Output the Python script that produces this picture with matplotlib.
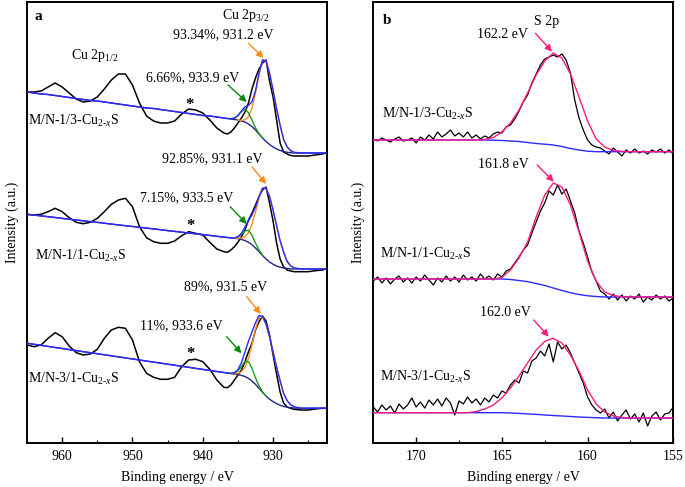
"""XPS Cu 2p (a) and S 2p (b) spectra of the M/N-Cu2-xS samples."""

import matplotlib

matplotlib.use("Agg")

import matplotlib.pyplot as plt
import numpy as np

plt.rcParams["font.family"] = ["Liberation Serif", "DejaVu Serif"]
plt.rcParams["mathtext.fontset"] = "custom"
plt.rcParams["mathtext.rm"] = "Liberation Serif"
plt.rcParams["mathtext.it"] = "Liberation Serif:italic"

SAMPLES = ["M/N-1/3", "M/N-1/1", "M/N-3/1"]

# ---- (a) Cu 2p, intensities in a.u. (stacked) ----
E_A = np.array([965, 964, 963, 962, 961, 960, 959, 958, 957, 956, 955, 954,
                953, 952, 951, 950, 949, 948, 947, 946, 945, 944, 943, 942,
                941, 940, 939, 938, 937, 936.5, 936, 935.5, 935, 934.5, 934,
                933.5, 933, 932.5, 932, 931.5, 931, 930.5, 930, 929.5, 929,
                928.5, 928, 927.5, 927, 926, 925, 924, 923, 922.5])

CU_TOP = [351, 351, 352, 356, 360, 356, 350, 344, 341, 342, 346, 354, 363,
          369, 369, 358, 340, 327, 322, 320, 320, 322, 329, 334, 333, 330,
          323, 315, 310,
          309, 311, 315, 320, 325, 331, 340, 354, 365, 374, 380, 383, 362,
          346, 323, 300, 291, 289, 287.5, 287,
          287, 287, 288, 289, 290]
CU_MID = [228.7, 228, 228.7, 231.3, 234.7, 231.3, 225.3, 220.7, 219.3, 220.7,
          224.7, 231.3, 238.7, 243, 244.7, 236.3, 216.3, 205.3, 201.3, 199.7,
          199.7, 202, 207.3, 211.3, 209.7, 208, 200.7, 194, 191.3,
          190.7, 193, 196.3, 200.7, 206.3, 213, 223, 229.7, 238, 246.3, 253,
          256, 240, 222, 200, 184, 176, 173, 172, 171.3,
          171.3, 171.3, 172.3, 173, 174]
CU_BOT = [98, 96.3, 98, 104.7, 110.3, 106.3, 97, 90.3, 88, 89, 93.7, 104.7,
          113, 115.7, 114.7, 103, 81.3, 69.7, 65.7, 63.7, 63.7, 65.7, 76.3,
          83, 83.7, 81.3, 73.7, 63, 55.7,
          55.3, 58, 63, 68, 73, 81.3, 91.3, 99.7, 113, 121.3, 127, 122, 108,
          88, 69, 51, 40, 36, 34.7, 33.7,
          33, 33, 34, 34.7, 34.7]

# Shirley backgrounds
BG_TOP = [351, 350, 349, 348.5, 347.5, 346.5, 345.5, 344.5, 343.5, 342.5,
          342, 341, 340, 339, 338, 337, 336, 335, 334.5, 333.5, 332.5, 331.5,
          330.5, 329.5, 328.5, 327.5, 327, 326, 325,
          324.5, 324, 323.5, 323, 322, 321, 319, 316.5, 313, 309, 305, 301.5,
          298.5, 296, 294, 292.5, 291.5, 290.7, 290.3, 290,
          290, 290, 290, 290, 290]
BG_MID = [228.7, 227.9, 227.1, 226.3, 225.5, 224.6, 223.8, 223.0, 222.2,
          221.4, 220.6, 219.8, 218.9, 218.1, 217.3, 216.5, 215.7, 214.9,
          214.1, 213.3, 212.4, 211.6, 210.8, 210.0, 209.2, 208.4, 207.6,
          206.7, 205.9,
          205.5, 205.1, 204.7, 204.3, 203.5, 202.5, 200.7, 198.3, 195.0,
          191.3, 187.5, 184.0, 181.0, 178.8, 177.0, 175.8, 175.0, 174.5,
          174.2, 174.0,
          174, 174, 174, 174, 174]
BG_BOT = [99.7, 98.7, 97.6, 96.6, 95.5, 94.5, 93.4, 92.4, 91.3, 90.3, 89.3,
          88.2, 87.2, 86.1, 85.1, 84, 83, 81.9, 80.9, 79.9, 78.8, 77.8, 76.7,
          75.7, 74.6, 73.6, 72.6, 71.5, 70.5,
          70, 69.4, 68.9, 68.4, 67.6, 66.5, 64.6, 62, 58.6, 54.7, 50.7, 47,
          43.8, 41.3, 39.4, 37.8, 36.6, 35.8, 35.3, 35,
          34.8, 34.8, 34.8, 34.8, 34.8]

# fitted components above background, on the 937..926 eV part of E_A
FIT_LO, FIT_HI = 926, 937
MAIN_TOP = [0, 0, 0, 0, 0.1, 0.6, 2.3, 7.3, 18.4, 37, 60, 78, 80.5, 71.2,
            56.8, 40.2, 25.3, 12, 5.5, 2, 0.7, 0]
MINOR_TOP = [0, 0, 0.3, 1.3, 4.4, 9.4, 12.9, 11.3, 6.3, 2.3, 0.5, 0.1, 0, 0,
             0, 0, 0, 0, 0, 0, 0, 0]
MAIN_MID = [0, 0, 0, 0.1, 0.4, 1.3, 3.8, 9.6, 20.3, 35.9, 53.5, 67.1, 70.8,
            65.5, 54.3, 40.3, 26.6, 15.8, 7, 3, 1.2, 0]
MINOR_MID = [0, 0, 0, 0.3, 1.6, 4.9, 9.6, 12, 9.6, 4.9, 1.6, 0.3, 0, 0, 0,
             0, 0, 0, 0, 0, 0, 0]
MAIN_BOT = [0, 0, 0.1, 0.3, 1.2, 3.7, 9.4, 20.2, 36.3, 55.1, 70.4, 75.5,
            71.6, 62.4, 49.8, 36.4, 24.5, 13, 6.5, 3, 1.2, 0]
MINOR_BOT = [0, 0, 0.2, 1.0, 3.7, 9.1, 15, 16.9, 12.8, 6.6, 2.3, 0.5, 0.1, 0,
             0, 0, 0, 0, 0, 0, 0, 0]

CU_MAIN_LABELS = ["93.34%, 931.2 eV", "92.85%, 931.1 eV", "89%, 931.5 eV"]
CU_MINOR_LABELS = ["6.66%, 933.9 eV", "7.15%, 933.5 eV", "11%, 933.6 eV"]

# ---- (b) S 2p, 0.25 eV steps for data, 0.5 eV steps for the fits ----
E_B = np.linspace(172.5, 155.0, 71)
E_BF = np.linspace(172.5, 155.0, 36)

S_TOP = [304, 302, 305, 303, 301, 304, 306, 302, 303, 305,
         300, 306, 303, 308, 304, 311, 306, 309, 313, 307,
         310, 306, 311, 305, 308, 304, 307, 305, 309, 311,
         310, 316, 318, 324, 332, 341, 348, 360, 369, 378,
         384, 386, 388, 386, 389, 383, 370, 343, 325, 313,
         303, 298, 296, 295, 292, 289, 295, 291, 287, 293,
         290, 294, 290, 292, 289, 293, 291, 294, 290, 293,
         289]
S_MID = [162, 166, 160, 165, 159, 164, 167, 161, 165, 160,
         166, 162, 168, 163, 158, 165, 161, 167, 162, 166,
         161, 168, 163, 166, 162, 169, 164, 167, 163, 169,
         166, 172, 174, 180, 186, 193, 198, 210, 221, 232,
         240, 252, 248, 258, 249, 254, 242, 230, 212, 200,
         186, 171, 162, 152, 149, 144, 149, 143, 148, 142,
         147, 144, 149, 141, 146, 143, 148, 144, 147, 142,
         145]
S_BOT = [36, 31, 38, 33, 37, 30, 39, 34, 38, 45,
         36, 41, 35, 43, 38, 44, 37, 45, 40, 28,
         42, 39, 46, 40, 44, 38, 45, 41, 48, 45,
         52, 50, 58, 63, 60, 72, 70, 82, 85, 92,
         87, 99, 81, 101, 94, 98, 90, 80, 70, 60,
         46, 38, 33, 30, 34, 25, 31, 22, 28, 33,
         24, 29, 21, 30, 17, 27, 31, 23, 29, 30,
         36]

S_FIT_TOP = [303] * 13 + [303.5, 305.5, 311, 320, 333, 350, 368, 382, 390,
                          385, 369, 346, 322, 304, 296, 292.5, 291.7] + [291.3] * 6
S_FIT_MID = [164] * 15 + [165.5, 173, 185, 201, 226, 248, 260, 256, 238, 211,
                          182, 162, 151, 147.5, 146.3] + [146] * 6
S_FIT_BOT = [30.3] * 12 + [31.5, 34, 38, 45, 55, 67, 80, 93, 101.5, 104.7,
                           100, 88, 72, 53, 39, 31, 27, 25.5] + [25] * 6

S_BG_TOP = [303] * 14 + [302.8, 302.5, 302, 301.5, 300.5, 299.5, 298.8, 298,
                         296.5, 294.5, 293, 291.8, 291.3] + [291.3] * 9
S_BG_MID = [164] * 16 + [163.5, 162.5, 161.3, 159.5, 157.5, 155, 152.5,
                         150.3, 148.5, 147.2, 146.5] + [146] * 9
S_BG_BOT = [30.3] * 16 + [30, 29.6, 29.1, 28.6, 28, 27.5, 27, 26.5, 26, 25.6,
                          25.3] + [25] * 9

S_PEAK_LABELS = ["162.2 eV", "161.8 eV", "162.0 eV"]

BLUE = "#2b2bff"
NAVY = "#22228c"
ORANGE = "#ff8a1c"
GREEN = "#1f9a1f"
PINK = "#ff1a80"


def _style(ax, xlim, major, minor):
    ax.set_xlim(*xlim)
    ax.set_ylim(0, 441)
    ax.set_yticks([])
    ax.set_xticks(major)
    ax.set_xticks(minor, minor=True)
    ax.tick_params(axis="x", which="major", direction="in", length=4,
                   width=1, labelsize=10, pad=5)
    ax.tick_params(axis="x", which="minor", direction="in", length=2.5,
                   width=0.8)
    for s in ax.spines.values():
        s.set_linewidth(1.4)
    ax.set_xlabel("Binding energy / eV", fontsize=10, labelpad=6)
    ax.set_ylabel("Intensity (a.u.)", fontsize=10, labelpad=6)


def _arrow(ax, tail, head, color):
    ax.annotate("", xy=head, xytext=tail,
                arrowprops=dict(arrowstyle="-|>", color=color, lw=1.0,
                                mutation_scale=10, shrinkA=0, shrinkB=0))


def _cu_label(s):
    return s + r"-Cu$_{2\text{-}x}$S"


fig = plt.figure(figsize=(6.85, 4.87), dpi=100)
ax_a = fig.add_axes([27 / 685, 44 / 487, 300 / 685, 441 / 487])
ax_b = fig.add_axes([373.3 / 685, 44 / 487, 300 / 685, 441 / 487])

# ---- panel a ----
sel = (E_A >= FIT_LO) & (E_A <= FIT_HI)
ef = E_A[sel]
cu_sets = [(CU_TOP, BG_TOP, MAIN_TOP, MINOR_TOP),
           (CU_MID, BG_MID, MAIN_MID, MINOR_MID),
           (CU_BOT, BG_BOT, MAIN_BOT, MINOR_BOT)]
for data, bg, main, minor in cu_sets:
    bg = np.asarray(bg, float)
    main = np.asarray(main, float)
    minor = np.asarray(minor, float)
    env = bg.copy()
    env[sel] += main + minor
    ax_a.plot(E_A, data, color="black", lw=1.1, zorder=2)
    ax_a.plot(E_A, bg, color=NAVY, lw=1.0, zorder=3)
    ax_a.plot(ef, np.where(main > 0.05, bg[sel] + main, np.nan),
              color=ORANGE, lw=1.0, zorder=3)
    ax_a.plot(ef, np.where(minor > 0.05, bg[sel] + minor, np.nan),
              color=GREEN, lw=1.0, zorder=3)
    ax_a.plot(E_A, env, color=BLUE, lw=1.0, zorder=4)

# sample names, peak labels, satellites (*)
for name, (x, y) in zip(SAMPLES, [(964.8, 322), (963.9, 187), (964.8, 64)]):
    ax_a.text(x, y, _cu_label(name), fontsize=10, ha="left", va="center")
for lab, (x, y) in zip(CU_MAIN_LABELS,
                       [(937.05, 408), (938.6, 284), (936.7, 156)]):
    ax_a.text(x, y, lab, fontsize=10, ha="center", va="center")
for lab, (x, y) in zip(CU_MINOR_LABELS,
                       [(941.45, 365), (942.3, 245), (943.1, 117)]):
    ax_a.text(x, y, lab, fontsize=10, ha="center", va="center")
for x, y in [(941.95, 338), (941.7, 217), (941.7, 89)]:
    ax_a.text(x, y, "*", fontsize=12, fontweight="bold", ha="center",
              va="center")

_arrow(ax_a, (933.5, 399.7), (931.35, 385), ORANGE)
_arrow(ax_a, (933.0, 276.3), (931.0, 259), ORANGE)
_arrow(ax_a, (933.75, 146.3), (931.75, 129), ORANGE)
_arrow(ax_a, (936.4, 358), (933.75, 341), "#0a8a0a")
_arrow(ax_a, (936.1, 236.3), (933.75, 219), "#0a8a0a")
_arrow(ax_a, (936.6, 106.3), (934.5, 89.7), "#0a8a0a")

ax_a.text(955.3, 388, r"Cu 2p$_{\mathrm{1/2}}$", fontsize=10, ha="center",
          va="center")
ax_a.text(933.9, 427, r"Cu 2p$_{\mathrm{3/2}}$", fontsize=10, ha="center",
          va="center")
ax_a.text(963.9, 427, "a", fontsize=11, fontweight="bold", ha="left",
          va="center")
_style(ax_a, (965, 922.33), [960, 950, 940, 930],
       [955, 945, 935, 925])

# ---- panel b ----
for data, fit, bg in [(S_TOP, S_FIT_TOP, S_BG_TOP),
                      (S_MID, S_FIT_MID, S_BG_MID),
                      (S_BOT, S_FIT_BOT, S_BG_BOT)]:
    ax_b.plot(E_B, data, color="black", lw=0.9, zorder=2)
    ax_b.plot(E_BF, bg, color=BLUE, lw=1.0, zorder=3)
    ax_b.plot(E_BF, fit, color=PINK, lw=1.0, zorder=4)

for name, (x, y) in zip(SAMPLES, [(171.99, 329), (172.1, 189), (172.1, 66)]):
    ax_b.text(x, y, _cu_label(name), fontsize=10, ha="left", va="center")
for lab, (x, y) in zip(S_PEAK_LABELS,
                       [(164.97, 409), (164.94, 279), (164.8, 130)]):
    ax_b.text(x, y, lab, fontsize=10, ha="center", va="center")
_arrow(ax_b, (163.04, 409.7), (162.07, 391.3), PINK)
_arrow(ax_b, (162.94, 278), (161.97, 261.3), PINK)
_arrow(ax_b, (163.14, 123), (162.27, 106.3), PINK)

ax_b.text(162.37, 421, "S 2p", fontsize=10, ha="center", va="center")
ax_b.text(171.93, 423, "b", fontsize=11, fontweight="bold", ha="left",
          va="center")
_style(ax_b, (172.5, 155.0), [170, 165, 160, 155], [167.5, 162.5, 157.5])

fig.savefig("out.png", dpi=100)
plt.close(fig)
